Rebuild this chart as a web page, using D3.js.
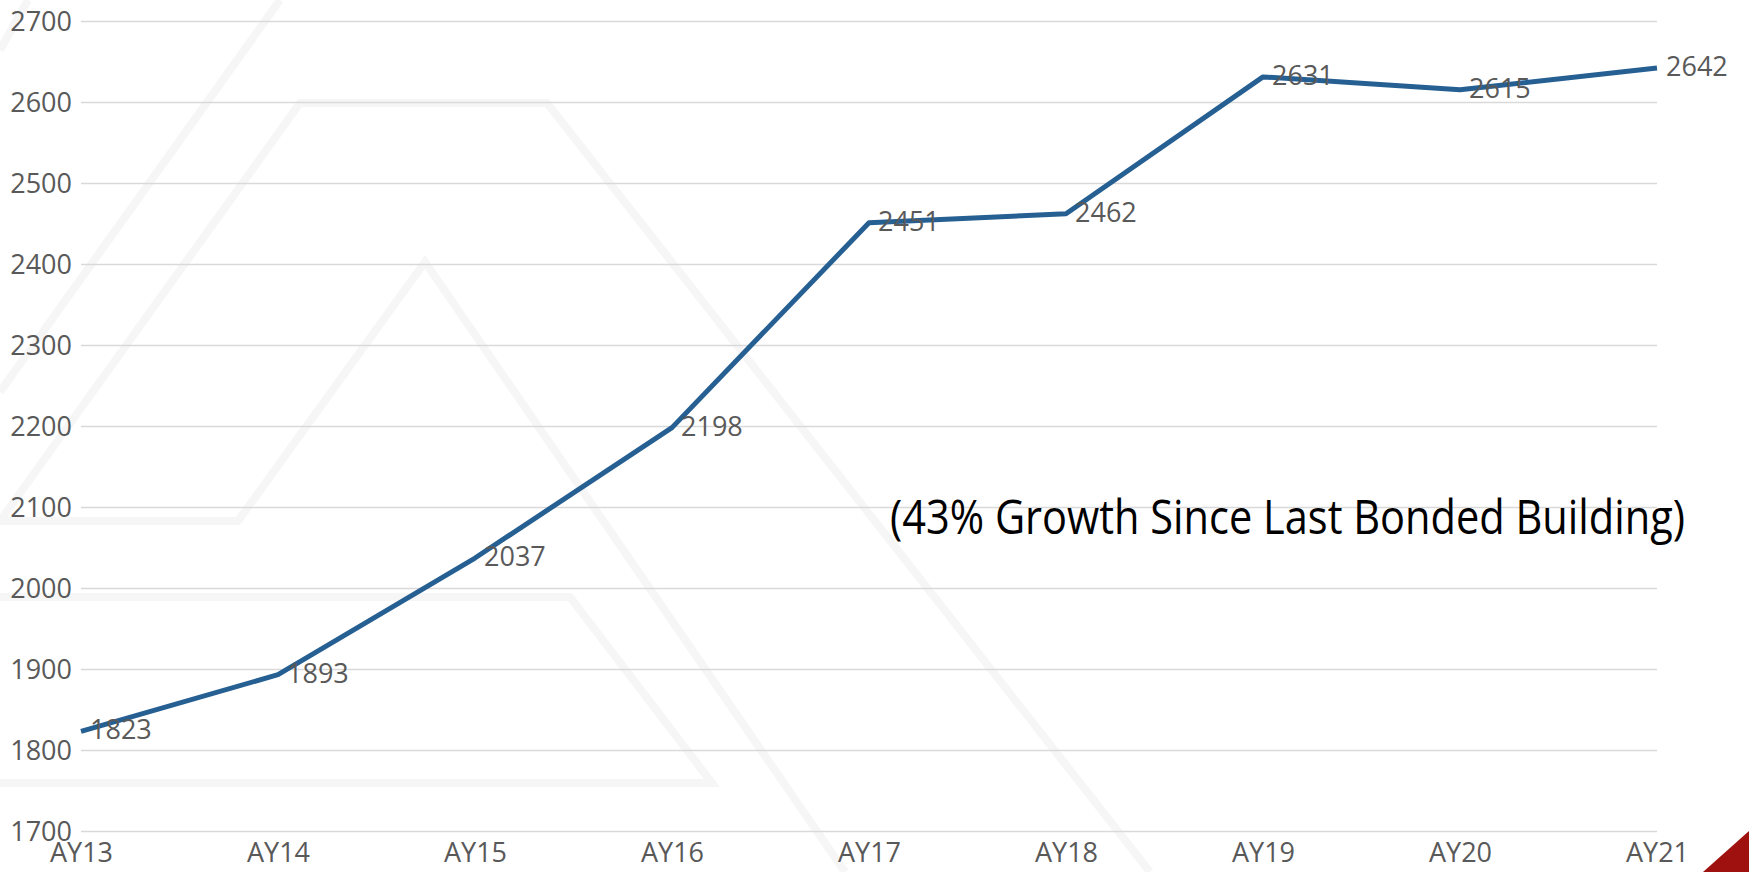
<!DOCTYPE html>
<html>
<head>
<meta charset="utf-8">
<script src="https://cdn.jsdelivr.net/npm/d3@7"></script>
<style>
  html, body { margin: 0; padding: 0; background: #ffffff; }
  svg { display: block; }
</style>
</head>
<body>
<svg id="chart" width="1749" height="872"></svg>
<script>
// данные графика
const years = ["AY13", "AY14", "AY15", "AY16", "AY17", "AY18", "AY19", "AY20", "AY21"];
const students = [1823, 1893, 2037, 2198, 2451, 2462, 2631, 2615, 2642];
const yTicks = [1700, 1800, 1900, 2000, 2100, 2200, 2300, 2400, 2500, 2600, 2700];
const note = "(43% Growth Since Last Bonded Building)";

const width = 1749;
const height = 872;

// отступы области графика
const margin = {
    top: 21,
    bottom: 41,
    left: 81,
    right: 92
};

const boundsWidth = width - margin.left - margin.right;
const boundsHeight = height - margin.top - margin.bottom;

const svg = d3.select("#chart");
const font = "'Open Sans', 'Noto Sans', sans-serif";

// фоновый водяной знак (светло-серые шевроны)
const watermark = [
    [[0, 50], [28, 0]],
    [[0, 392], [280, 0]],
    [[0, 521], [300, 103], [547, 103], [1150, 872]],
    [[0, 521], [238, 521], [425, 262], [845, 872]],
    [[0, 597], [570, 597], [712, 783], [0, 783]]
];
svg.append("g")
    .selectAll("path")
    .data(watermark)
    .enter()
    .append("path")
    .attr("d", d => d3.line()(d))
    .style("fill", "none")
    .style("stroke", "#f6f6f6")
    .style("stroke-width", 8)
    .style("stroke-linejoin", "miter");

// красный уголок справа внизу
svg.append("path")
    .attr("d", "M1703,872 L1749,831 L1749,872 Z")
    .style("fill", "#9f110e");

// шкалы
const scaleX = d3.scalePoint()
    .domain(years)
    .range([0, boundsWidth]);

const scaleY = d3.scaleLinear()
    .domain([1700, 2700])
    .range([boundsHeight, 0]);

const g = svg.append("g")
    .attr("transform", `translate(${margin.left}, ${margin.top})`);

// горизонтальная сетка + подписи оси Y
const yAxis = d3.axisLeft(scaleY)
    .tickValues(yTicks)
    .tickSize(-boundsWidth)
    .tickPadding(9)
    .tickFormat(d3.format("d"));

g.append("g")
    .call(yAxis)
    .call(a => a.select(".domain").remove())
    .call(a => a.selectAll("line").style("stroke", "#d9d9d9").style("stroke-width", 1.5))
    .call(a => a.selectAll("text")
        .style("font-family", font)
        .style("font-size", "27px")
        .style("fill", "#595959")
        .attr("dy", "0.36em"));

// ось X
const xAxis = d3.axisBottom(scaleX)
    .tickSize(0)
    .tickPadding(0);

g.append("g")
    .attr("transform", `translate(0, ${boundsHeight})`)
    .call(xAxis)
    .call(a => a.select(".domain").remove())
    .call(a => a.selectAll("text")
        .attr("dy", null)
        .attr("y", 31)
        .style("font-family", font)
        .style("font-size", "27px")
        .style("fill", "#595959"));

// линия
const line = d3.line()
    .x((d, i) => scaleX(years[i]))
    .y(d => scaleY(d));

g.append("path")
    .datum(students)
    .attr("d", line)
    .style("fill", "none")
    .style("stroke", "#265f92")
    .style("stroke-width", 5)
    .style("stroke-linejoin", "round")
    .style("stroke-linecap", "butt");

// подписи значений справа от точек
g.selectAll(".value-label")
    .data(students)
    .enter()
    .append("text")
    .attr("class", "value-label")
    .attr("x", (d, i) => scaleX(years[i]) + 9)
    .attr("y", d => scaleY(d) + 8)
    .style("font-family", font)
    .style("font-size", "27px")
    .style("fill", "#595959")
    .text(d => d);

// примечание
svg.append("text")
    .attr("x", 890)
    .attr("y", 534)
    .attr("textLength", 795)
    .attr("lengthAdjust", "spacingAndGlyphs")
    .style("font-family", font)
    .style("font-size", "47px")
    .style("fill", "#000000")
    .text(note);
</script>
</body>
</html>
